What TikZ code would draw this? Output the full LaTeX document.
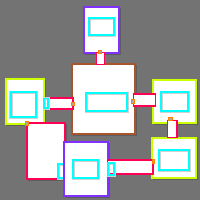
\documentclass[tikz,border=0pt]{standalone}
\definecolor{bg}{HTML}{737373}
\definecolor{shd}{HTML}{5E5E5E}
\definecolor{halo}{HTML}{D0D0D0}
\definecolor{purp}{HTML}{8030FF}
\definecolor{brn}{HTML}{A8552D}
\definecolor{ygr}{HTML}{CCFF00}
\definecolor{rd}{HTML}{FF0055}
\definecolor{cy}{HTML}{00FFFF}
\definecolor{org}{HTML}{FF8000}
\tikzset{
  room/.style={fill=white,draw=#1,line width=1.2bp},
  halobox/.style={draw=halo,line width=3bp},
  cybox/.style={draw=cy,line width=1.4bp},
  door/.style={draw=org,line width=1.1bp,fill=halo!60!bg},
  corr/.style={fill=white,draw=rd,line width=1.2bp}
}
\newcommand{\innerbox}[4]{%
  \draw[halobox] (#1,#2) rectangle (#3,#4);
  \draw[cybox] (#1,#2) rectangle (#3,#4);}
\begin{document}
\begin{tikzpicture}[x=1bp,y=-1bp]
\fill[bg] (0,0) rectangle (200,200);
\useasboundingbox (0,0) rectangle (200,200);
% shadows
\foreach \a/\b/\c/\d in {84/7/119/53, 72/64/135/134, 6/79/44/124, 153/80/196/123, 152/138/196/178, 27/123/65/179, 64/142/108/196}
  \fill[shd] (\a+1,\b+1) rectangle (\c+1.5,\d+1.5);
% rooms
\draw[room=purp] (84,7) rectangle (119,53);
\innerbox{89}{18}{114}{35}
\draw[room=brn] (72,64) rectangle (135,134);
\innerbox{86}{93}{127}{111}
\draw[room=ygr] (6,79) rectangle (44,124);
\innerbox{11}{92}{36}{117}
\draw[room=ygr] (153,80) rectangle (196,123);
\innerbox{161}{92}{188}{111}
\draw[room=ygr] (152,138) rectangle (196,178);
\innerbox{159}{150}{189}{170}
\draw[room=rd] (27,123) rectangle (65,179);
\innerbox{58}{164}{64}{178}
\draw[room=purp] (64,142) rectangle (108,196);
\innerbox{73}{160}{98}{178}
% corridors
\draw[corr] (96.5,52.5) rectangle (104.5,64.5);
\draw[corr] (43.5,98) rectangle (73,109);
\innerbox{44}{98.5}{48}{108}
\draw[corr] (133.5,94) rectangle (155.5,106);
\draw[corr] (167.5,120.5) rectangle (177,137.5);
\draw[corr] (107.5,160) rectangle (153,174);
\innerbox{108}{163}{114}{175}
% doors
\draw[door] (98.5,50.5) rectangle (101.5,53.5);
\draw[door] (71.5,102.5) rectangle (74.5,105.5);
\draw[door] (131.5,99.5) rectangle (134.5,103.5);
\draw[door] (168.5,117.5) rectangle (172.5,120.5);
\draw[door] (152.5,159.5) rectangle (154.5,163.5);
\draw[door] (25.5,121.5) rectangle (28.5,125.5);
\end{tikzpicture}
\end{document}
